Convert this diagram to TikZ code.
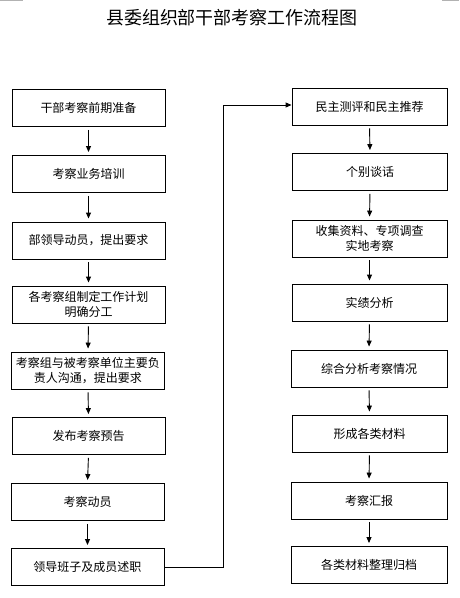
\documentclass[tikz,border=0pt]{standalone}
\usepackage{fontspec}
\setmainfont{Noto Sans CJK SC}
\usetikzlibrary{arrows.meta,positioning}

\tikzset{
  stepbox/.style={draw,line width=0.9pt,minimum width=153pt,minimum height=37pt,
    inner sep=0pt,align=center,font=\fontsize{12pt}{15pt}\selectfont},
  flow/.style={-{Triangle[width=5pt,length=6pt]},line width=0.9pt,
    shorten <=3pt,shorten >=3pt}
}

\begin{document}
\begin{tikzpicture}[x=1pt,y=-1pt]
\useasboundingbox (0,0) rectangle (459,598);
% corner marks
\draw[gray!60,line width=1pt] (0,0.5) -- (23,0.5);
\draw[gray!60,line width=1pt] (442,0.5) -- (459,0.5);

% title
\node (title) at (232,18) {\fontsize{18pt}{20pt}\selectfont 县委组织部干部考察工作流程图};

% left column
\node[stepbox] (l1) at (88.5,108) {干部考察前期准备};
\node[stepbox] (l2) at (88.5,174) {考察业务培训};
\node[stepbox] (l3) at (88.5,240.5) {部领导动员，提出要求};
\node[stepbox] (l4) at (88.5,304.5) {各考察组制定工作计划\\明确分工};
\node[stepbox] (l5) at (88,370.5) {考察组与被考察单位主要负\\责人沟通，提出要求};
\node[stepbox] (l6) at (88.5,436) {发布考察预告};
\node[stepbox] (l7) at (87.5,502) {考察动员};
\node[stepbox] (l8) at (87.5,567) {领导班子及成员述职};

% right column
\node[stepbox,minimum width=155pt] (r1) at (369.5,106.5) {民主测评和民主推荐};
\node[stepbox,minimum width=155pt] (r2) at (370,172) {个别谈话};
\node[stepbox,minimum width=155pt] (r3) at (369.5,238.5) {收集资料、专项调查\\实地考察};
\node[stepbox,minimum width=155pt] (r4) at (369.5,302.5) {实绩分析};
\node[stepbox,minimum width=156pt] (r5) at (369,368.5) {综合分析考察情况};
\node[stepbox,minimum width=155pt] (r6) at (369.5,433.5) {形成各类材料};
\node[stepbox,minimum width=156pt] (r7) at (369,500.5) {考察汇报};
\node[stepbox,minimum width=156pt] (r8) at (369,565) {各类材料整理归档};

% arrows
\foreach \a/\b in {l1/l2,l2/l3,l3/l4,l4/l5,l5/l6,l6/l7,l7/l8,
                   r1/r2,r2/r3,r3/r4,r4/r5,r5/r6,r6/r7,r7/r8}
  \draw[flow] (\a.south) -- (\b.north);

% link between columns
\coordinate (turn) at (223,105);
\draw[-{Triangle[width=5pt,length=6pt]},line width=0.9pt]
  (l8.east) -| (turn) -- (turn -| r1.west);
\end{tikzpicture}
\end{document}
